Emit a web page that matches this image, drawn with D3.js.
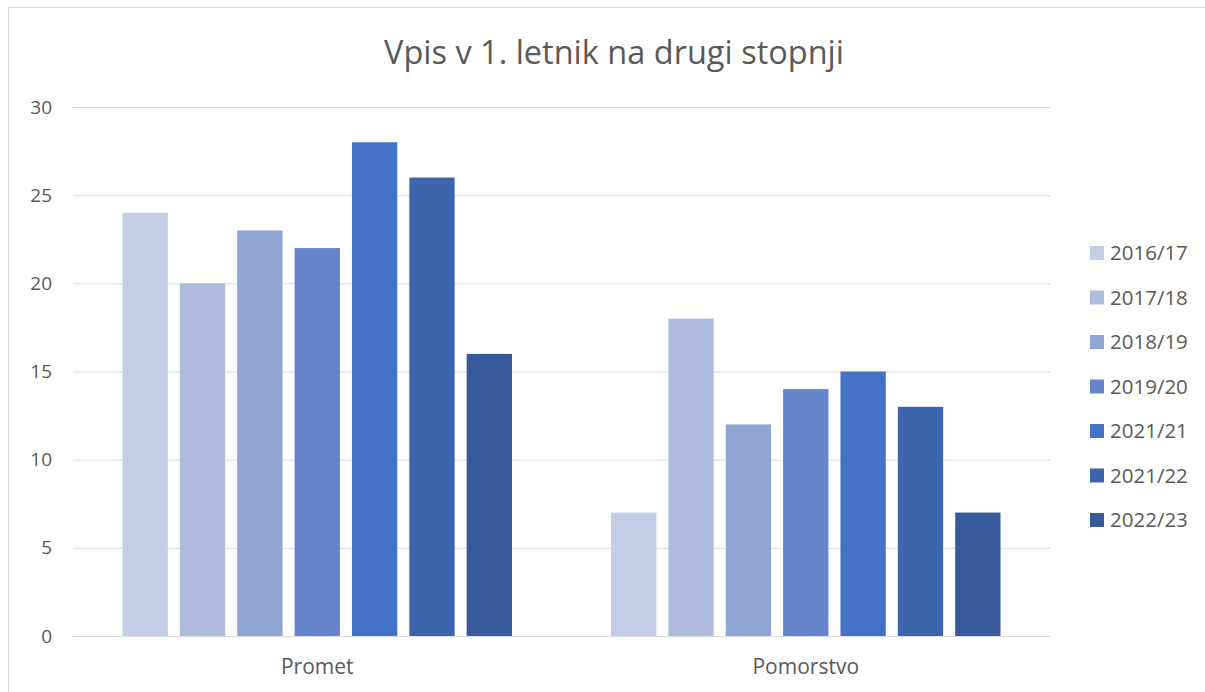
<!DOCTYPE html>
<html>
<head>
<meta charset="utf-8">
<script src="https://cdn.jsdelivr.net/npm/d3@7"></script>
<style>
  html, body { margin: 0; padding: 0; background: #fff; }
  svg { display: block; }
  text { font-family: "Open Sans", "Noto Sans", sans-serif; fill: #595959; }
</style>
</head>
<body>
<svg id="chart" width="1205" height="692"></svg>
<script>
const title = "Vpis v 1. letnik na drugi stopnji";
const categories = ["Promet", "Pomorstvo"];
const seriesNames = ["2016/17", "2017/18", "2018/19", "2019/20", "2021/21", "2021/22", "2022/23"];
const seriesValues = [
  [24, 7],
  [20, 18],
  [23, 12],
  [22, 14],
  [28, 15],
  [26, 13],
  [16, 7]
];
const yTicks = [0, 5, 10, 15, 20, 25, 30];
const colors = ["#C5CEE7", "#AFBBDF", "#91A5D5", "#6585CB", "#4472C4", "#3D65AE", "#365A9C"];

const svg = d3.select("#chart");

// chart border
svg.append("rect")
  .attr("x", 8.5).attr("y", 7.5)
  .attr("width", 1205).attr("height", 700)
  .attr("fill", "none").attr("stroke", "#D9D9D9").attr("stroke-width", 1);

const plot = { left: 73, right: 1050, top: 107, bottom: 636 };

const y = d3.scaleLinear().domain([0, 30]).range([plot.bottom, plot.top]);
const x0 = d3.scaleBand().domain(categories).range([plot.left, plot.right]).padding(0);
const groupInset = 49.5;
const x1 = d3.scaleBand().domain(seriesNames)
  .range([groupInset, x0.bandwidth() - groupInset])
  .paddingInner(0.21).paddingOuter(0);

// gridlines
const yAxis = d3.axisLeft(y).tickValues(yTicks).tickSize(-(plot.right - plot.left)).tickPadding(21);
const gy = svg.append("g").attr("transform", `translate(${plot.left},0)`).call(yAxis);
gy.select(".domain").remove();
gy.selectAll(".tick line").attr("stroke", "#D9D9D9").attr("stroke-width", 1);
gy.selectAll(".tick text")
  .style("font-family", '"Open Sans", "Noto Sans", sans-serif')
  .style("font-size", "19px").attr("fill", "#595959");

// bars
const rows = [];
seriesNames.forEach((s, si) => {
  categories.forEach((c, ci) => {
    rows.push({ series: s, cat: c, value: seriesValues[si][ci], color: colors[si] });
  });
});
svg.append("g").selectAll("rect").data(rows).join("rect")
  .attr("x", d => x0(d.cat) + x1(d.series))
  .attr("y", d => y(d.value))
  .attr("width", x1.bandwidth())
  .attr("height", d => y(0) - y(d.value))
  .attr("fill", d => d.color);

// x axis line
const xAxis = d3.axisBottom(x0).tickSize(0).tickPadding(23);
const gx = svg.append("g").attr("transform", `translate(0,${plot.bottom})`).call(xAxis);
gx.select(".domain").attr("stroke", "#D9D9D9");
gx.selectAll(".tick text")
  .style("font-family", '"Open Sans", "Noto Sans", sans-serif')
  .style("font-size", "21px").attr("fill", "#595959");

// title
svg.append("text")
  .attr("x", 614).attr("y", 64)
  .attr("text-anchor", "middle")
  .style("font-size", "32.5px")
  .text(title);

// legend
const legend = svg.append("g");
const legY = d3.scalePoint().domain(seriesNames).range([253, 520]);
seriesNames.forEach((s, i) => {
  legend.append("rect")
    .attr("x", 1090).attr("y", legY(s) - 7)
    .attr("width", 14).attr("height", 14)
    .attr("fill", colors[i]);
  legend.append("text")
    .attr("x", 1110).attr("y", legY(s))
    .attr("dy", "0.35em")
    .style("font-size", "20.5px")
    .text(s);
});
</script>
</body>
</html>
